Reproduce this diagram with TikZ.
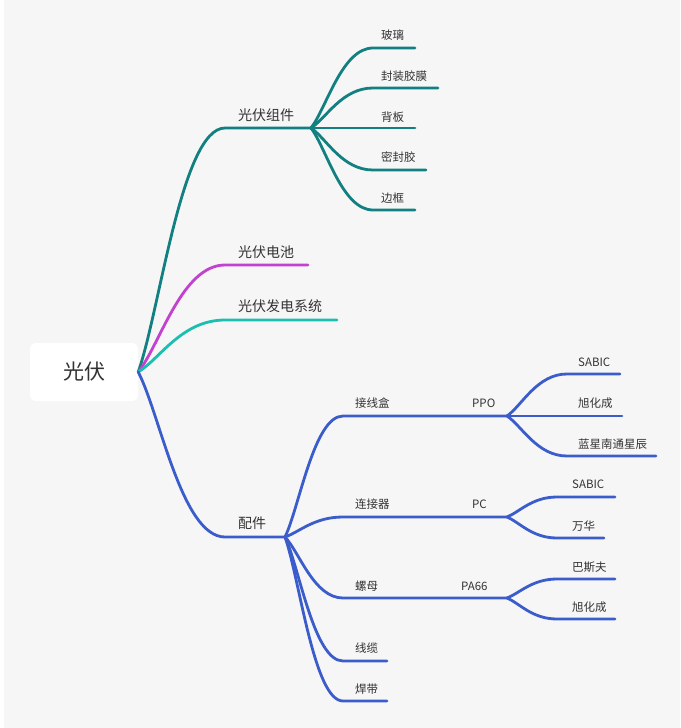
\documentclass[tikz,border=0pt]{standalone}
\usepackage{fontspec}
\setmainfont{Noto Sans CJK SC}
\usetikzlibrary{calc}
\definecolor{bgGray}{HTML}{F6F6F6}
\definecolor{zjTeal}{HTML}{127F80}
\definecolor{dcMagenta}{HTML}{C341CF}
\definecolor{fdCyan}{HTML}{1BBFB0}
\definecolor{pjBlue}{HTML}{3B5DCB}
\definecolor{txtGray}{HTML}{333333}

\begin{document}
\begin{tikzpicture}[x=1pt,y=-1pt,
    branch/.style={to path={.. controls ($(\tikztostart)!0.25!(\tikztotarget)$) and ($(\tikztotarget)!0.5!(\tikztostart|-\tikztotarget)$) .. (\tikztotarget)}},
    wire/.style={line width=2.8pt,line cap=round},
    lvlone/.style={anchor=west,text=txtGray,font=\fontsize{14}{14}\selectfont,inner sep=0pt},
    lvltwo/.style={anchor=west,text=txtGray,font=\fontsize{11.5}{12}\selectfont,inner sep=0pt}]
  \fill[bgGray] (0,0) rectangle (680,728);
  \fill[white] (0,0) rectangle (4,728);
  \useasboundingbox (0,0) rectangle (680,728);

  % root
  \node[fill=white,rounded corners=6pt,minimum width=108pt,minimum height=58pt,
        font=\fontsize{21}{21}\selectfont,text=txtGray] (root) at (84,372) {光伏};

  % line ends
  \coordinate (zjS) at (225,128);  \coordinate (zjE) at (311,128);
  \coordinate (blS) at (373,48);   \coordinate (blE) at (415,48);
  \coordinate (fzS) at (373,88);   \coordinate (fzE) at (438,88);
  \coordinate (bbS) at (373,128);  \coordinate (bbE) at (415,128);
  \coordinate (mfS) at (373,170);  \coordinate (mfE) at (426,170);
  \coordinate (bkS) at (373,210);  \coordinate (bkE) at (415,210);
  \coordinate (dcS) at (225,265);  \coordinate (dcE) at (308,265);
  \coordinate (fdS) at (225,320);  \coordinate (fdE) at (337,320);
  \coordinate (pjS) at (225,537);  \coordinate (pjE) at (285,537);
  \coordinate (jxS) at (343,416);  \coordinate (ppoE) at (507,416);
  \coordinate (lj) at (343,517);   \coordinate (pcE) at (507,517);
  \coordinate (lm) at (343,598);   \coordinate (paE) at (507,598);
  \coordinate (xlS) at (343,661);  \coordinate (xlE) at (387,661);
  \coordinate (hdS) at (343,701);  \coordinate (hdE) at (387,701);
  \coordinate (sbS) at (567,374);  \coordinate (sbE) at (620,374);
  \coordinate (xhE) at (622,416);
  \coordinate (lxS) at (567,456);  \coordinate (lxE) at (656,456);
  \coordinate (sbtS) at (557,497); \coordinate (sbtE) at (615,497);
  \coordinate (whS) at (557,538);  \coordinate (whE) at (604,538);
  \coordinate (bsS) at (557,579);  \coordinate (bsE) at (615,579);
  \coordinate (xhtS) at (557,619); \coordinate (xhtE) at (615,619);

  % 光伏组件
  \draw[wire,zjTeal] (root.east) to[branch] (zjS) -- (zjE);
  \draw[wire,zjTeal] (zjE) to[branch] (blS) -- (blE);
  \draw[wire,zjTeal] (zjE) to[branch] (fzS) -- (fzE);
  \draw[wire,zjTeal] (zjE) -- (bbE);
  \draw[wire,zjTeal] (zjE) to[branch] (mfS) -- (mfE);
  \draw[wire,zjTeal] (zjE) to[branch] (bkS) -- (bkE);
  \node[lvlone] (zj) at (238,115) {光伏组件};
  \node[lvltwo] (bl) at (381,35) {玻璃};
  \node[lvltwo] (fz) at (381,76) {封装胶膜};
  \node[lvltwo] (bb) at (381,117) {背板};
  \node[lvltwo] (mf) at (381,157) {密封胶};
  \node[lvltwo] (bk) at (381,198) {边框};

  % 光伏电池, 光伏发电系统
  \draw[wire,dcMagenta] (root.east) to[branch] (dcS) -- (dcE);
  \draw[wire,fdCyan] (root.east) to[branch] (fdS) -- (fdE);
  \node[lvlone] (dc) at (238,252) {光伏电池};
  \node[lvlone] (fd) at (238,306) {光伏发电系统};

  % 配件
  \draw[wire,pjBlue] (root.east) to[branch] (pjS) -- (pjE);
  \draw[wire,pjBlue] (pjE) to[branch] (jxS) -- (ppoE);
  \draw[wire,pjBlue] (pjE) to[branch] (lj) -- (pcE);
  \draw[wire,pjBlue] (pjE) to[branch] (lm) -- (paE);
  \draw[wire,pjBlue] (pjE) to[branch] (xlS) -- (xlE);
  \draw[wire,pjBlue] (pjE) to[branch] (hdS) -- (hdE);
  \draw[wire,pjBlue] (ppoE) to[branch] (sbS) -- (sbE);
  \draw[wire,pjBlue] (ppoE) -- (xhE);
  \draw[wire,pjBlue] (ppoE) to[branch] (lxS) -- (lxE);
  \draw[wire,pjBlue] (pcE) to[branch] (sbtS) -- (sbtE);
  \draw[wire,pjBlue] (pcE) to[branch] (whS) -- (whE);
  \draw[wire,pjBlue] (paE) to[branch] (bsS) -- (bsE);
  \draw[wire,pjBlue] (paE) to[branch] (xhtS) -- (xhtE);
  \node[lvlone] (pj) at (238,523) {配件};
  \node[lvltwo] (jx) at (355,403) {接线盒};
  \node[lvltwo] (ppo) at (472,403) {PPO};
  \node[lvltwo] (ljq) at (355,504) {连接器};
  \node[lvltwo] (pc) at (472,504) {PC};
  \node[lvltwo] (lmu) at (355,586) {螺母};
  \node[lvltwo] (pa) at (461,586) {PA66};
  \node[lvltwo] (xl) at (355,648) {线缆};
  \node[lvltwo] (hd) at (355,689) {焊带};
  \node[lvltwo] (sb) at (578,362) {SABIC};
  \node[lvltwo] (xh) at (578,403) {旭化成};
  \node[lvltwo] (lx) at (578,444) {蓝星南通星辰};
  \node[lvltwo] (sbt) at (572,484) {SABIC};
  \node[lvltwo] (wh) at (572,526) {万华};
  \node[lvltwo] (bs) at (572,567) {巴斯夫};
  \node[lvltwo] (xht) at (572,607) {旭化成};
\end{tikzpicture}
\end{document}
